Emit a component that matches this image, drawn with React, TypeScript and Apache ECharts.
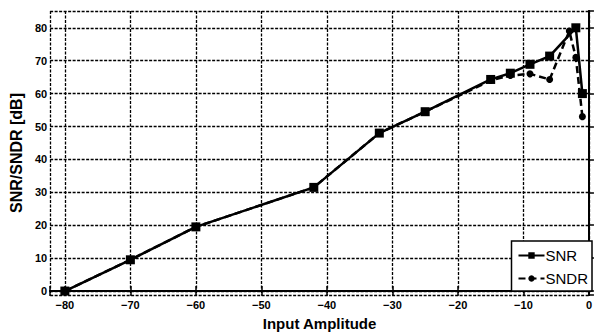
import React, { useEffect, useRef } from "react";
import * as echarts from "echarts";

const xTicks = [-80, -70, -60, -50, -40, -30, -20, -10, 0];
const yTicks = [0, 10, 20, 30, 40, 50, 60, 70, 80];

const snrX = [-80, -70, -60, -42, -32, -25, -15, -12, -9, -6, -2, -1];
const snrY = [0, 9.5, 19.5, 31.5, 48, 54.5, 64.3, 66.2, 68.9, 71.4, 80, 60];

const sndrX = [-80, -70, -60, -42, -32, -25, -15, -12, -9, -6, -3, -2, -1];
const sndrY = [0, 9.5, 19.5, 31.5, 48, 54.5, 64, 65.5, 66, 64.3, 79, 71, 53];

const FONT = "'Liberation Sans', Arial, sans-serif";

export default function App() {
  const ref = useRef<HTMLDivElement>(null);
  useEffect(() => {
    if (!ref.current) return;
    const chart = echarts.init(ref.current, undefined, { renderer: "svg" });
    const axLine = { show: true, lineStyle: { color: "#000", width: 2 } };
    const tick = { show: true, inside: true, length: 5, lineStyle: { color: "#000", width: 1.5 } };
    const split = { show: true, lineStyle: { color: "#000", type: [3, 1.5] as any, width: 1.3 } };
    const step = xTicks[1] - xTicks[0];
    const xBase = { type: "value" as const, min: -82.25, max: 0, splitNumber: 8, minInterval: step, maxInterval: step };
    const yBase = { type: "value" as const, min: -1.2, max: 85.1, splitNumber: 8, minInterval: step, maxInterval: step };
    const onTick = (list: number[]) => (v: number) => list.indexOf(Math.round(v * 1000) / 1000) >= 0;
    const isX = onTick(xTicks);
    const isY = onTick(yTicks);
    chart.setOption({
      animation: false,
      backgroundColor: "#fff",
      grid: { left: 47, top: 11, right: 1, bottom: 39 },
      xAxis: [
        {
          ...xBase,
          position: "bottom",
          axisLine: axLine,
          axisTick: tick,
          axisLabel: {
            color: "#000", fontSize: 11, fontWeight: "bold", fontFamily: FONT, margin: 4,
            showMinLabel: true, showMaxLabel: true,
            formatter: (v: number) => (!isX(v) ? "" : v < 0 ? "\u2212" + Math.abs(v) : String(v)),
          },
          splitLine: split,
          name: "Input Amplitude",
          nameLocation: "middle",
          nameGap: 21,
          nameTextStyle: { color: "#000", fontSize: 15, fontWeight: "bold", fontFamily: FONT },
        },
        {
          ...xBase,
          position: "top",
          axisLine: axLine,
          axisTick: tick,
          axisLabel: { show: false },
          splitLine: { show: false },
        },
      ],
      yAxis: [
        {
          ...yBase,
          position: "left",
          axisLine: axLine,
          axisTick: tick,
          axisLabel: {
            color: "#000", fontSize: 11, fontWeight: "bold", fontFamily: FONT, margin: 3,
            formatter: (v: number) => (isY(v) ? String(v) : ""),
          },
          splitLine: split,
          name: "SNR/SNDR [dB]",
          nameLocation: "middle",
          nameGap: 25,
          nameTextStyle: { color: "#000", fontSize: 16, fontWeight: "bold", fontFamily: FONT },
        },
        {
          ...yBase,
          position: "right",
          axisLine: axLine,
          axisTick: { show: false },
          axisLabel: { show: false },
          splitLine: { show: false },
        },
      ],
      legend: {
        orient: "vertical",
        right: 3,
        bottom: 45,
        backgroundColor: "#fff",
        borderColor: "#000",
        borderWidth: 1.5,
        borderRadius: 0,
        padding: [7, 4, 5, 6],
        itemGap: 8,
        itemWidth: 26,
        itemHeight: 8,
        textStyle: { color: "#000", fontSize: 15, fontFamily: FONT, padding: [0, 0, 0, -4] },
        data: ["SNR", "SNDR"],
      },
      series: [
        {
          name: "SNDR",
          type: "line",
          data: sndrX.map((x, i) => [x, sndrY[i]]),
          symbol: "circle",
          symbolSize: 7,
          itemStyle: { color: "#000" },
          lineStyle: { color: "#000", width: 2.5, type: [7, 4] as any },
          z: 3,
        },
        {
          name: "SNR",
          type: "line",
          data: snrX.map((x, i) => [x, snrY[i]]),
          symbol: "rect",
          symbolSize: 9,
          itemStyle: { color: "#000" },
          lineStyle: { color: "#000", width: 2.5 },
          z: 4,
        },
      ],
    });
    return () => chart.dispose();
  }, []);
  return <div ref={ref} style={{ width: 595, height: 336, position: "absolute", left: 0, top: 0 }} />;
}
